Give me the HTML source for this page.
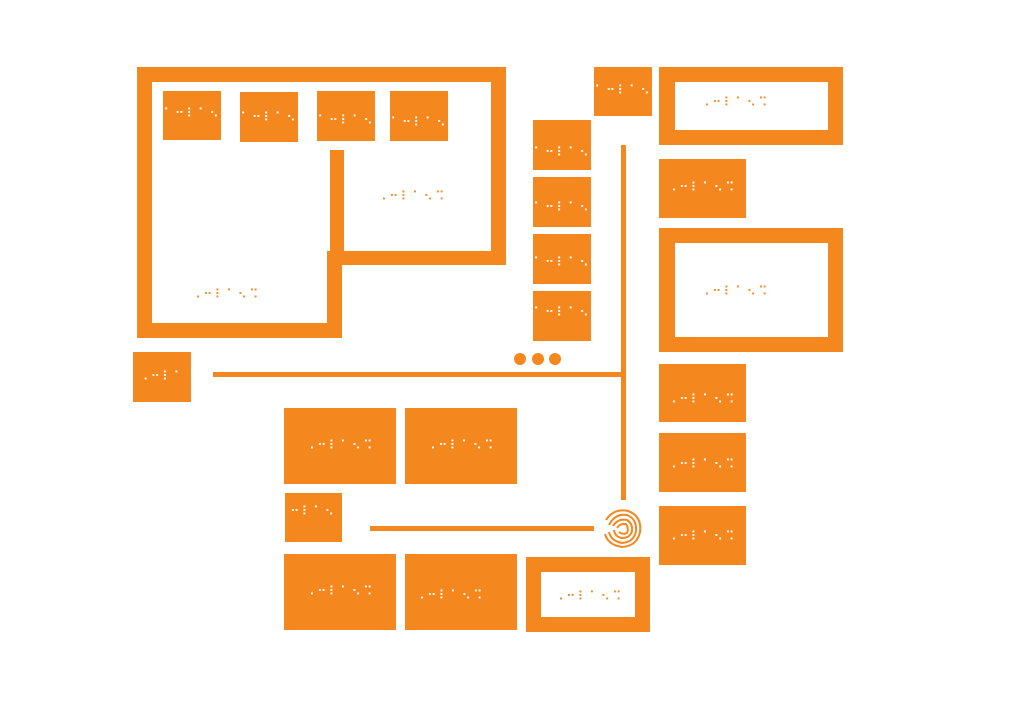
<!DOCTYPE html>
<html><head><meta charset="utf-8"><style>html,body{margin:0;padding:0;background:#fff}svg{display:block}text{font-family:"DejaVu Sans",sans-serif;font-size:13px;letter-spacing:2px;text-anchor:middle;dominant-baseline:middle}</style></head><body>
<svg width="1024" height="709" viewBox="0 0 1024 709" xmlns="http://www.w3.org/2000/svg">
<g fill="#F5871F">
<path fill-rule="evenodd" d="M137 67H506V265H342V338H137Z M152 82V323H327V251H491V82Z"/>
<rect x="330" y="150" width="14" height="115"/>
<rect x="163" y="91" width="58" height="49"/><rect x="240" y="92" width="58" height="50"/><rect x="317" y="91" width="58" height="50"/><rect x="390" y="91" width="58" height="50"/>
<rect x="533" y="120" width="58" height="50"/><rect x="533" y="177" width="58" height="50"/><rect x="533" y="234" width="58" height="50"/><rect x="533" y="291" width="58" height="50"/>
<rect x="594" y="67" width="58" height="49"/>
<path fill-rule="evenodd" d="M659 67H843V145H659Z M675 82V130H828V82Z"/>
<rect x="659" y="159" width="87" height="59"/>
<path fill-rule="evenodd" d="M659 228H843V352H659Z M675 243V337H828V243Z"/>
<rect x="659" y="364" width="87" height="58"/><rect x="659" y="433" width="87" height="59"/><rect x="659" y="506" width="87" height="59"/>
<rect x="621" y="145" width="5" height="355"/>
<rect x="213" y="372" width="413" height="5"/>
<circle cx="520" cy="359" r="6"/><circle cx="538" cy="359" r="6"/><circle cx="555" cy="359" r="6"/>
<rect x="133" y="352" width="58" height="50"/>
<rect x="284" y="408" width="112" height="76"/><rect x="405" y="408" width="112" height="76"/>
<rect x="285" y="493" width="57" height="49"/>
<rect x="284" y="554" width="112" height="76"/><rect x="405" y="554" width="112" height="76"/>
<path fill-rule="evenodd" d="M526 557H650V632H526Z M541 572V617H635V572Z"/>
<rect x="370" y="526" width="224" height="5"/>
</g>
<g fill="none" stroke="#F5871F" stroke-width="2">
<path d="M606 520 Q614 508 628 511 Q642 516 640 532 Q637 546 622 547 Q608 545 605 534"/>
<path d="M609 525 Q615 513 627 515 Q637 519 636 531 Q634 542 622 543 Q611 541 609 532"/>
<path d="M613 526 Q618 518 627 520 Q633 524 632 531 Q630 538 622 538 Q615 537 614 530"/>
<path d="M617 528 Q620 523 626 524 Q629 528 627 533 Q623 535 619 532"/>
</g>
<g fill="#fff">
<text x="192" y="114">⠁⠒⠇⠁⠢</text><text x="269" y="118">⠁⠒⠇⠁⠢</text><text x="346" y="121">⠁⠒⠇⠁⠢</text><text x="419" y="123">⠁⠒⠇⠁⠢</text>
<text x="562" y="153">⠁⠒⠇⠁⠢</text><text x="562" y="208">⠁⠒⠇⠁⠢</text><text x="562" y="263">⠁⠒⠇⠁⠢</text><text x="562" y="313">⠁⠒⠇⠁⠢</text>
<text x="623" y="91">⠁⠒⠇⠁⠢</text>
<text x="702" y="188">⠠⠒⠇⠁⠢⠩</text><text x="702" y="400">⠠⠒⠇⠁⠢⠩</text><text x="702" y="465">⠠⠒⠇⠁⠢⠩</text><text x="702" y="537">⠠⠒⠇⠁⠢⠩</text>
<text x="162" y="377">⠠⠒⠇⠁</text>
<text x="340" y="446">⠠⠒⠇⠁⠢⠩</text><text x="461" y="446">⠠⠒⠇⠁⠢⠩</text>
<text x="313" y="512">⠒⠇⠁⠢</text>
<text x="340" y="592">⠠⠒⠇⠁⠢⠩</text><text x="450" y="596">⠠⠒⠇⠁⠢⠩</text>
</g>
<g fill="#F5871F">
<text x="412" y="197">⠠⠒⠇⠁⠢⠩</text><text x="226" y="295">⠠⠒⠇⠁⠢⠩</text>
<text x="735" y="103">⠠⠒⠇⠁⠢⠩</text><text x="735" y="292">⠠⠒⠇⠁⠢⠩</text>
<text x="589" y="597">⠠⠒⠇⠁⠢⠩</text>
</g>
</svg>
</body></html>
